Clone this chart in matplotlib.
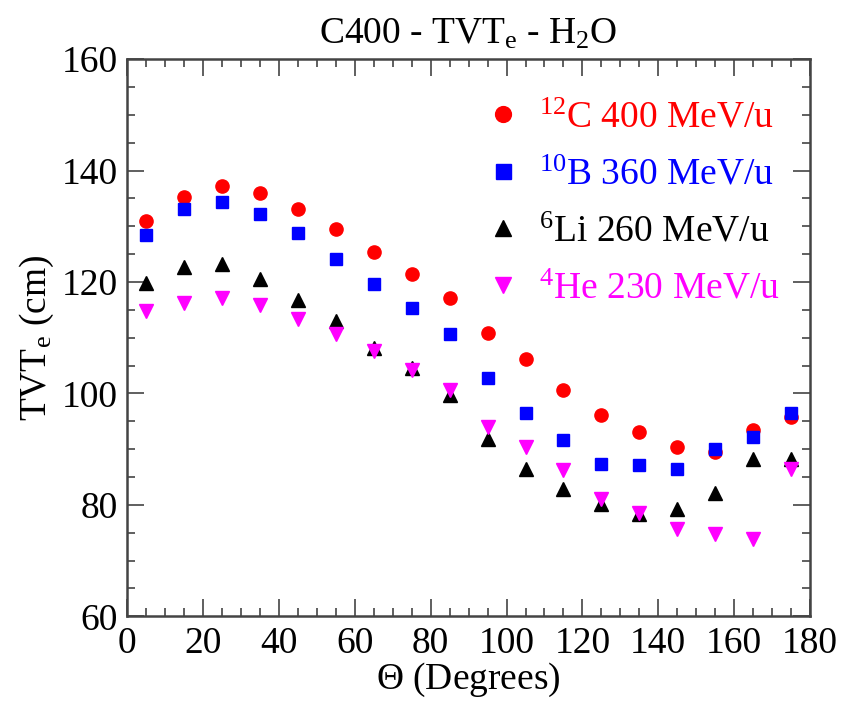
import numpy as np
import matplotlib
matplotlib.use('Agg')
import matplotlib.pyplot as plt
from matplotlib.ticker import MultipleLocator

plt.rcParams['font.family'] = ['Liberation Serif', 'DejaVu Serif']
plt.rcParams['mathtext.fontset'] = 'custom'
plt.rcParams['mathtext.rm'] = 'Liberation Serif'
plt.rcParams['mathtext.it'] = 'Liberation Serif:italic'

# scattering angle bins (degrees)
theta = [5, 15, 25, 35, 45, 55, 65, 75, 85, 95, 105, 115, 125, 135, 145, 155, 165, 175]

# TVT_e values (cm) for each beam
tvt_c12 = [131.0, 135.3, 137.3, 136.0, 133.1, 129.5, 125.3, 121.5, 117.2, 110.9,
           106.1, 100.6, 96.2, 93.0, 90.4, 89.4, 93.4, 95.8]
tvt_b10 = [128.5, 133.1, 134.3, 132.2, 128.7, 124.2, 119.6, 115.3, 110.6, 102.7,
           96.4, 91.6, 87.4, 87.1, 86.4, 90.0, 92.1, 96.4]
tvt_li6 = [119.9, 122.7, 123.2, 120.5, 116.8, 113.0, 108.2, 104.5, 99.7, 91.8,
           86.5, 82.8, 80.1, 78.4, 79.3, 82.2, 88.3, 88.3]
tvt_he4 = [114.8, 116.3, 117.1, 115.9, 113.4, 110.6, 107.6, 104.2, 100.6, 94.0,
           90.3, 86.2, 81.0, 78.5, 75.6, 74.8, 73.8, 86.4]

labels = [r'$^{12}$C 400 MeV/u', r'$^{10}$B 360 MeV/u',
          r'$^{6}$Li 260 MeV/u', r'$^{4}$He 230 MeV/u']

fig = plt.figure(figsize=(8.52, 7.09), dpi=100)
ax = fig.add_axes([0.1494, 0.1307, 0.8013, 0.786])

ax.plot(theta, tvt_c12, 'o', color='red', ms=9.5, label=labels[0])
ax.plot(theta, tvt_b10, 's', color='blue', ms=9, label=labels[1])
ax.plot(theta, tvt_li6, '^', color='black', ms=9.5, label=labels[2])
ax.plot(theta, tvt_he4, 'v', color='magenta', ms=9.5, label=labels[3])

ax.set_xlim(0, 180)
ax.set_ylim(60, 160)
ax.xaxis.set_major_locator(MultipleLocator(20))
ax.xaxis.set_minor_locator(MultipleLocator(5))
ax.yaxis.set_major_locator(MultipleLocator(20))
ax.yaxis.set_minor_locator(MultipleLocator(5))

edge = '#444444'
for s in ax.spines.values():
    s.set_linewidth(1.8)
    s.set_color(edge)
ax.tick_params(which='both', direction='in', top=True, right=True,
               color=edge, width=1.2, labelsize=27, pad=7)
ax.tick_params(which='major', length=12)
ax.tick_params(which='minor', length=6)

ax.set_xlabel(r'$\Theta$ (Degrees)', fontsize=27, labelpad=0)
ax.set_ylabel(r'TVT$_{\mathrm{e}}$ (cm)', fontsize=27, labelpad=4)
ax.set_title(r'C400 - TVT$_{\mathrm{e}}$ - H$_2$O', fontsize=27, pad=11)

ax.legend(loc='upper left', bbox_to_anchor=(0.5225, 0.925), frameon=False,
          fontsize=27, labelcolor='linecolor', handletextpad=0.47,
          labelspacing=0.6, handlelength=1.0, borderpad=0, borderaxespad=0,
          markerscale=1.2)

fig.savefig('out.png', dpi=100)
